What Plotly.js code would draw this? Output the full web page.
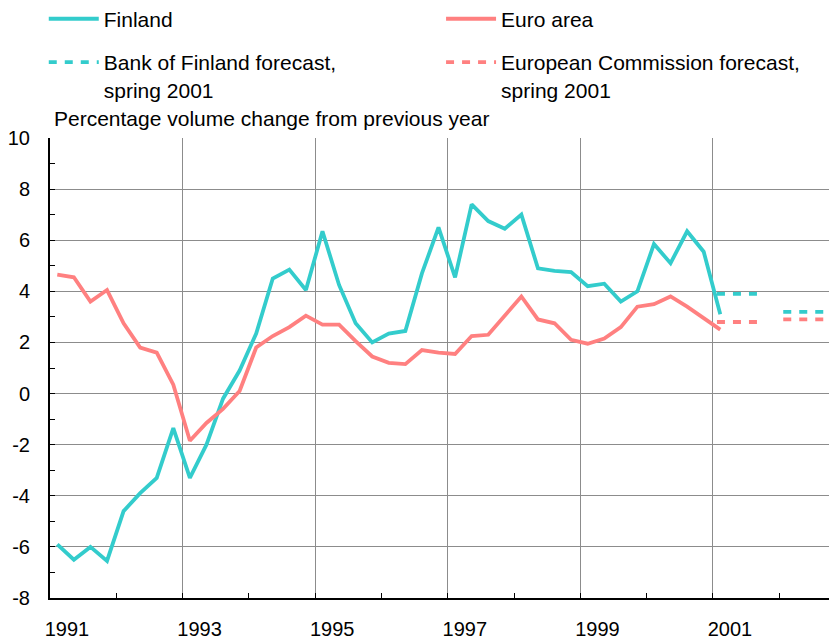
<!DOCTYPE html>
<html><head><meta charset="utf-8">
<script src="https://cdn.plot.ly/plotly-3.0.1.min.js"></script>
<style>html,body{margin:0;padding:0;background:#fff}#chart{width:829px;height:640px}</style>
</head><body><div id="chart"></div>
<script>
// Quarterly categories
const quarters = [
  "1991Q1","1991Q2","1991Q3","1991Q4","1992Q1","1992Q2","1992Q3","1992Q4",
  "1993Q1","1993Q2","1993Q3","1993Q4","1994Q1","1994Q2","1994Q3","1994Q4",
  "1995Q1","1995Q2","1995Q3","1995Q4","1996Q1","1996Q2","1996Q3","1996Q4",
  "1997Q1","1997Q2","1997Q3","1997Q4","1998Q1","1998Q2","1998Q3","1998Q4",
  "1999Q1","1999Q2","1999Q3","1999Q4","2000Q1","2000Q2","2000Q3","2000Q4",
  "2001Q1"
];
// Percentage volume change from previous year
const finland = [
  -5.9,-6.5,-6.0,-6.55,-4.6,-3.9,-3.3,-1.35,
  -3.3,-2.0,-0.2,0.9,2.35,4.5,4.85,4.05,
  6.35,4.25,2.75,2.0,2.35,2.45,4.7,6.5,
  4.55,7.4,6.75,6.45,7.0,4.9,4.8,4.75,
  4.2,4.3,3.6,4.0,5.85,5.1,6.35,5.55,
  3.1
];
const euroArea = [
  4.65,4.55,3.6,4.05,2.75,1.8,1.6,0.35,
  -1.85,-1.15,-0.6,0.1,1.8,2.25,2.6,3.05,
  2.7,2.7,2.05,1.45,1.2,1.15,1.7,1.6,
  1.55,2.25,2.3,3.05,3.8,2.9,2.75,2.1,
  1.95,2.15,2.6,3.4,3.5,3.8,3.4,2.95,
  2.5
];
// Annual forecasts (spring 2001)
const forecastYears = [2001, 2002];
const bofForecast = [3.9, 3.2];
const ecForecast = [2.8, 2.9];
// Axis ticks
const xTickYears = [1991, 1993, 1995, 1997, 1999, 2001];
const xTickLabels = ["1991", "1993", "1995", "1997", "1999", "2001"];
const yTickVals = [-8, -6, -4, -2, 0, 2, 4, 6, 8, 10];
const yTickLabels = ["-8", "-6", "-4", "-2", "0", "2", "4", "6", "8", "10"];

const FONT = "Liberation Sans, Arial, Helvetica, sans-serif";
const CYAN = "#33CCCC";
const SALMON = "#FF8080";
const LW = 3.8;

function quarterToX(q) {
  const year = parseInt(q.slice(0, 4), 10);
  const qn = parseInt(q.slice(5), 10);
  return year + (qn - 1) / 4 + 0.11;
}
const qx = quarters.map(quarterToX);

function forecastXY(years, vals) {
  const x = [], y = [];
  years.forEach((yr, i) => {
    x.push(yr + 0.06, yr + 0.665, null);
    y.push(vals[i], vals[i], null);
  });
  return {x, y};
}
const bof = forecastXY(forecastYears, bofForecast);
const ec = forecastXY(forecastYears, ecForecast);

const traces = [
  {x: qx, y: finland, name: "Finland", type: "scatter", mode: "lines",
   line: {color: CYAN, width: LW}, legend: "legend", legendgroup: "a"},
  {x: bof.x, y: bof.y, name: "Bank of Finland forecast,<br>spring 2001", type: "scatter", mode: "lines",
   line: {color: CYAN, width: LW, dash: "8px,8px"}, legend: "legend", legendgroup: "b", connectgaps: false},
  {x: qx, y: euroArea, name: "Euro area", type: "scatter", mode: "lines",
   line: {color: SALMON, width: LW}, legend: "legend2", legendgroup: "c"},
  {x: ec.x, y: ec.y, name: "European Commission forecast,<br>spring 2001", type: "scatter", mode: "lines",
   line: {color: SALMON, width: LW, dash: "8px,8px"}, legend: "legend2", legendgroup: "d", connectgaps: false}
];

const legendCommon = {
  xanchor: "left", yanchor: "top", orientation: "v",
  font: {family: FONT, size: 21, color: "#000"},
  bgcolor: "rgba(0,0,0,0)", borderwidth: 0,
  itemwidth: 50, tracegroupgap: 13, valign: "top", traceorder: "grouped"
};

const layout = {
  width: 829, height: 640,
  margin: {l: 50, r: 0, t: 138, b: 42, autoexpand: false},
  paper_bgcolor: "#fff", plot_bgcolor: "#fff",
  font: {family: FONT, size: 20, color: "#000"},
  showlegend: true,
  legend: Object.assign({}, legendCommon, {x: -0.008, y: 1.303}),
  legend2: Object.assign({}, legendCommon, {x: 0.502, y: 1.303}),
  xaxis: {
    range: [1991, 2002.75], tickmode: "array", tickvals: xTickYears, ticktext: xTickLabels,
    showgrid: true, gridcolor: "#8c8c8c", gridwidth: 1,
    ticks: "inside", ticklen: 5, tickwidth: 1, tickcolor: "#000",
    minor: {dtick: 1, tick0: 1991, ticks: "inside", ticklen: 5, tickwidth: 1, tickcolor: "#000", showgrid: false},
    showline: true, linecolor: "#000", linewidth: 1.5, zeroline: false,
    tickfont: {family: FONT, size: 20, color: "#000"},
    ticklabelshift: 17, ticklabelstandoff: 12, fixedrange: true
  },
  yaxis: {
    range: [-8, 10], tickmode: "array", tickvals: yTickVals, ticktext: yTickLabels,
    showgrid: true, gridcolor: "#8c8c8c", gridwidth: 1,
    ticks: "inside", ticklen: 5, tickwidth: 1, tickcolor: "#000",
    minor: {dtick: 1, tick0: 1, ticks: "inside", ticklen: 5, tickwidth: 1, tickcolor: "#000", showgrid: false},
    showline: true, linecolor: "#000", linewidth: 2, zeroline: false,
    tickfont: {family: FONT, size: 20, color: "#000"},
    ticklabelstandoff: 14, fixedrange: true
  },
  annotations: [{
    text: "Percentage volume change from previous year",
    xref: "paper", yref: "paper", x: 0, y: 1, xanchor: "left", yanchor: "bottom",
    xshift: 2, yshift: 6, showarrow: false,
    font: {family: FONT, size: 21, color: "#000"}
  }]
};

Plotly.newPlot("chart", traces, layout, {displayModeBar: false, staticPlot: true});
</script>
</body></html>
